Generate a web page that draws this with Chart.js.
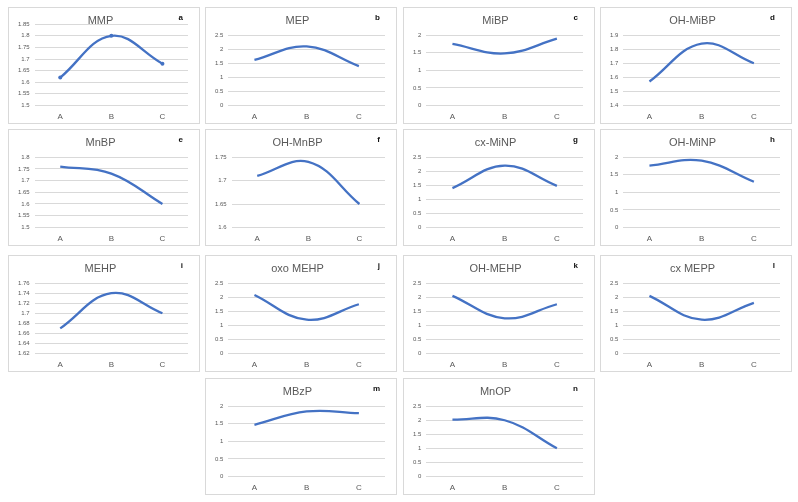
<!DOCTYPE html>
<html>
<head>
<meta charset="utf-8">
<script src="https://cdn.jsdelivr.net/npm/chart.js@4.4.0/dist/chart.umd.min.js"></script>
<style>
  body { margin: 0; background: #fff; width: 798px; height: 502px; position: relative; overflow: hidden; font-family: "Liberation Sans", Arial, sans-serif; }
  .panel { position: absolute; width: 192px; height: 117px; border: 1px solid #d9d9d9; box-sizing: border-box; background: #fff; overflow: hidden; }
  .panel canvas { position: absolute; left: 0; top: 0; }
  .tag { position: absolute; right: 16px; top: 5px; font-size: 8px; font-weight: bold; color: #111; }
</style>
</head>
<body>
<script>
// data
const categories = ['A', 'B', 'C'];
const titles = ['MMP', 'MEP', 'MiBP', 'OH-MiBP', 'MnBP', 'OH-MnBP', 'cx-MiNP', 'OH-MiNP',
                'MEHP', 'oxo MEHP', 'OH-MEHP', 'cx MEPP', 'MBzP', 'MnOP'];
const letters = ['a', 'b', 'c', 'd', 'e', 'f', 'g', 'h', 'i', 'j', 'k', 'l', 'm', 'n'];

const mmp = [1.62, 1.80, 1.68];
const mep = [1.62, 2.10, 1.40];
const mibp = [1.75, 1.48, 1.90];
const ohMibp = [1.57, 1.84, 1.70];
const mnbp = [1.76, 1.73, 1.60];
const ohMnbp = [1.71, 1.74, 1.65];
const cxMinp = [1.40, 2.20, 1.48];
const ohMinp = [1.76, 1.90, 1.30];
const mehp = [1.67, 1.74, 1.70];
const oxoMehp = [2.08, 1.20, 1.75];
const ohMehp = [2.05, 1.25, 1.75];
const cxMepp = [2.05, 1.20, 1.80];
const mbzp = [1.47, 1.85, 1.80];
const mnop = [2.02, 2.00, 1.00];

const series = [mmp, mep, mibp, ohMibp, mnbp, ohMnbp, cxMinp, ohMinp,
                mehp, oxoMehp, ohMehp, cxMepp, mbzp, mnop];

// y axis ticks
const yMin  = [1.5, 0, 0, 1.4, 1.5, 1.6, 0, 0, 1.62, 0, 0, 0, 0, 0];
const yMax  = [1.85, 2.5, 2, 1.9, 1.8, 1.75, 2.5, 2, 1.76, 2.5, 2.5, 2.5, 2, 2.5];
const yStep = [0.05, 0.5, 0.5, 0.1, 0.05, 0.05, 0.5, 0.5, 0.02, 0.5, 0.5, 0.5, 0.5, 0.5];

// panel grid
const colX = [8, 205, 403, 600];
const rowY = [7, 129, 255, 378];
const W = 192, H = 117;

const blue = '#4472C4';
const gray = '#595959';

series.forEach((vals, i) => {
  let col, row;
  if (i < 12) { col = i % 4; row = Math.floor(i / 4); }
  else { col = i - 11; row = 3; }

  const panel = document.createElement('div');
  panel.className = 'panel';
  panel.style.left = colX[col] + 'px';
  panel.style.top = rowY[row] + 'px';
  // canvas runs a little past the panel bottom; the extra strip is clipped
  const canvas = document.createElement('canvas');
  canvas.width = W - 2;
  canvas.height = 124;
  panel.appendChild(canvas);
  const tag = document.createElement('div');
  tag.className = 'tag';
  tag.textContent = letters[i];
  panel.appendChild(tag);
  document.body.appendChild(panel);

  new Chart(canvas.getContext('2d'), {
    type: 'line',
    data: {
      labels: categories,
      datasets: [{
        data: vals,
        borderColor: blue,
        backgroundColor: blue,
        borderWidth: 2.3,
        tension: 0.4,
        pointRadius: i === 0 ? 2 : 0,
        pointBorderWidth: 0
      }]
    },
    options: {
      responsive: false,
      animation: false,
      maintainAspectRatio: false,
      layout: { padding: { top: 0, right: 11, left: 4, bottom: 3 } },
      plugins: {
        legend: { display: false },
        tooltip: { enabled: false },
        title: {
          display: true,
          text: titles[i],
          color: gray,
          font: { family: '"Liberation Sans", Arial, sans-serif', size: 11, weight: 'normal' },
          padding: i === 0 ? { top: 6, bottom: -3 } : { top: 6, bottom: 8 }
        }
      },
      scales: {
        x: {
          offset: true,
          grid: { display: false, drawTicks: false },
          border: { display: false },
          ticks: { color: gray, font: { size: 8 }, padding: 7 }
        },
        y: {
          min: yMin[i],
          max: yMax[i],
          grid: { color: '#d9d9d9', drawTicks: false, lineWidth: 1 },
          border: { display: false },
          ticks: {
            stepSize: yStep[i],
            autoSkip: false,
            color: gray,
            font: { size: 6 },
            padding: 5,
            callback: v => String(Number(v.toFixed(2)))
          }
        }
      }
    }
  });
});
</script>
</body>
</html>
